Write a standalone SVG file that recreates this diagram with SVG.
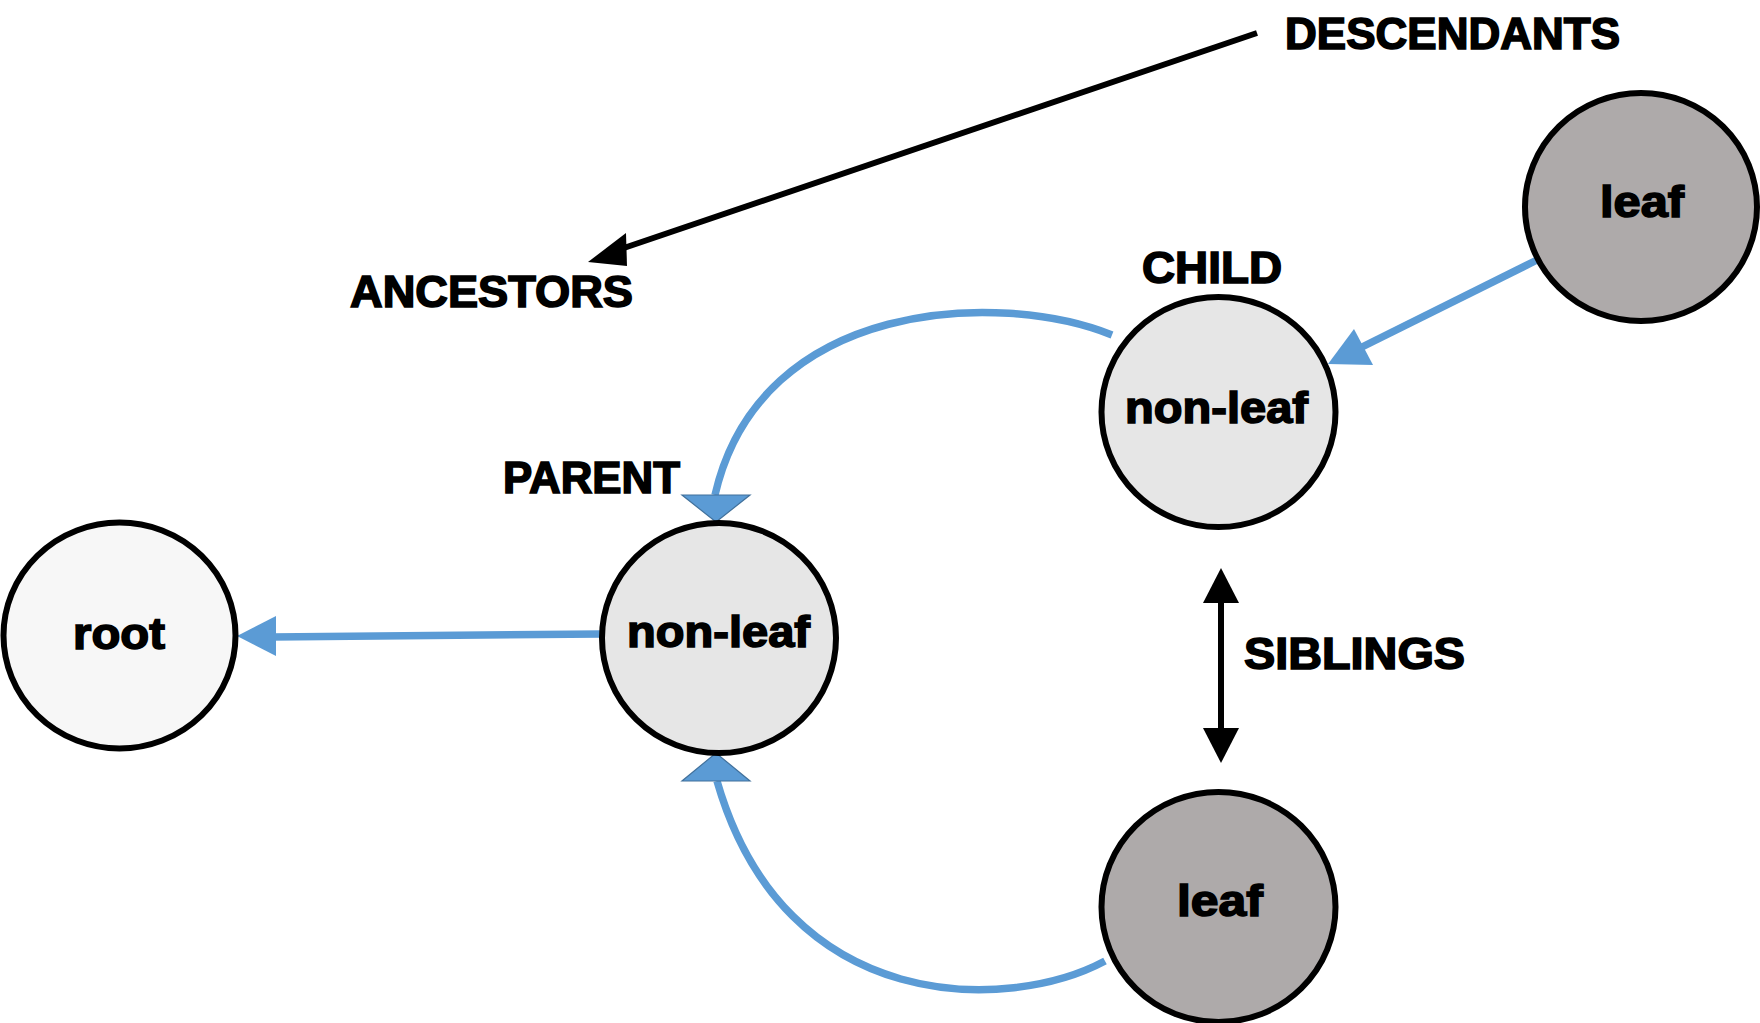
<svg xmlns="http://www.w3.org/2000/svg" width="1760" height="1023" viewBox="0 0 1760 1023">
<style>
.node{stroke:#000;stroke-width:6}
.root{fill:#F7F7F7}
.nonleaf{fill:#E6E6E6}
.leaf{fill:#AEAAAA}
.nt{font-family:"Liberation Sans",Arial,sans-serif;font-weight:bold;font-size:44px;fill:#000;stroke:#000;stroke-width:1.6;text-anchor:middle}
.lbl{font-family:"Liberation Sans",Arial,sans-serif;font-weight:bold;font-size:44px;fill:#000;stroke:#000;stroke-width:1.6}
.blue{fill:none;stroke:#5B9BD5;stroke-width:7.5}
.bhead{fill:#5B9BD5}
.fhead{fill:#5B9BD5;stroke:#41719C;stroke-width:1.2}
.black{fill:none;stroke:#000;stroke-width:6}
</style>
<rect width="1760" height="1023" fill="#fff"/>
<g id="connectors">
  <line class="black" x1="1257" y1="33" x2="615" y2="251"/>
  <polygon points="588,262 626,233 627,266" fill="#000"/>
  <line class="black" x1="1221" y1="595" x2="1221" y2="735"/>
  <polygon points="1221,568 1239,603 1203,603" fill="#000"/>
  <polygon points="1221,763 1239,728 1203,728" fill="#000"/>
  <line class="blue" x1="601" y1="634" x2="272" y2="637"/>
  <polygon class="bhead" points="237,636 276,616 276,656"/>
  <line class="blue" x1="1537" y1="260" x2="1360" y2="348"/>
  <polygon class="bhead" points="1328,364 1354,329 1373,365"/>
  <path class="blue" d="M1112,335 C1000,290 760,298 715,495"/>
  <polygon class="fhead" points="682,495 750,495 716,522"/>
  <path class="blue" d="M1105,961 C1010,1012 785,1018 717,781"/>
  <polygon class="fhead" points="682,781 750,781 716,753"/>
</g>
<g id="node-root">
  <ellipse class="node root" cx="119.5" cy="635.5" rx="116" ry="113"/>
  <text class="nt" x="119" y="649" textLength="92" lengthAdjust="spacingAndGlyphs">root</text>
</g>
<g id="node-parent">
  <ellipse class="node nonleaf" cx="719" cy="638" rx="117" ry="115"/>
  <text class="nt" x="718.5" y="647" textLength="183" lengthAdjust="spacingAndGlyphs">non-leaf</text>
</g>
<g id="node-child">
  <ellipse class="node nonleaf" cx="1218.5" cy="412" rx="117" ry="115"/>
  <text class="nt" x="1216.5" y="423" textLength="183" lengthAdjust="spacingAndGlyphs">non-leaf</text>
</g>
<g id="node-leaf-top">
  <ellipse class="node leaf" cx="1641" cy="207" rx="116" ry="114"/>
  <text class="nt" x="1642" y="217" textLength="84" lengthAdjust="spacingAndGlyphs">leaf</text>
</g>
<g id="node-leaf-bottom">
  <ellipse class="node leaf" cx="1218.5" cy="907" rx="117" ry="115"/>
  <text class="nt" x="1220" y="916" textLength="86" lengthAdjust="spacingAndGlyphs">leaf</text>
</g>
<g id="labels">
  <text class="lbl" x="1285" y="49" textLength="335" lengthAdjust="spacingAndGlyphs">DESCENDANTS</text>
  <text class="lbl" x="350" y="307" textLength="283" lengthAdjust="spacingAndGlyphs">ANCESTORS</text>
  <text class="lbl" x="1142" y="283" textLength="140" lengthAdjust="spacingAndGlyphs">CHILD</text>
  <text class="lbl" x="503" y="493" textLength="177" lengthAdjust="spacingAndGlyphs">PARENT</text>
  <text class="lbl" x="1244" y="669" textLength="221" lengthAdjust="spacingAndGlyphs">SIBLINGS</text>
</g>
</svg>
